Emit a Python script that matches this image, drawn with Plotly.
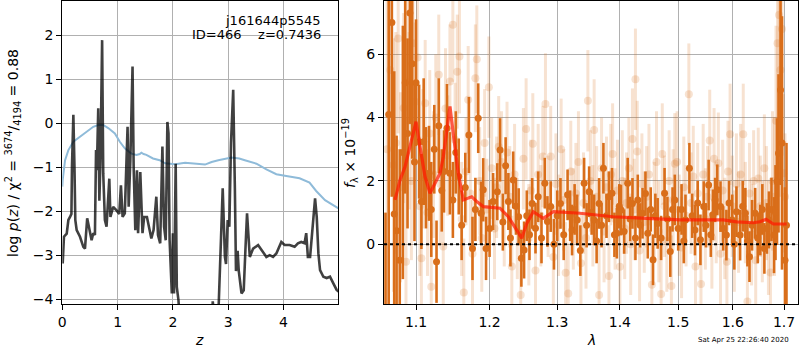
import numpy as np
import plotly.graph_objects as go

# ---------------- left panel: p(z) ----------------
z_pz = [0.007, 0.03, 0.08, 0.11, 0.14, 0.165, 0.175, 0.20, 0.22, 0.235, 0.26, 0.32, 0.38, 0.41, 0.45,
        0.50, 0.53, 0.56, 0.59, 0.61, 0.625, 0.65, 0.67, 0.69, 0.72, 0.74, 0.77, 0.80, 0.85, 0.87,
        0.92, 0.98, 1.03, 1.06, 1.09, 1.13, 1.18, 1.20, 1.23, 1.27, 1.29, 1.32, 1.35, 1.37, 1.41,
        1.45, 1.48, 1.53, 1.57, 1.61, 1.65, 1.70, 1.73, 1.77, 1.81, 1.84, 1.87, 1.90, 1.92, 1.94,
        1.98, 2.00, 2.02, 2.05, 2.07, 2.10, 2.13, 2.16, 2.68, 2.72, 2.75, 2.82, 2.87, 2.90, 2.94,
        2.96, 2.99, 3.02, 3.05, 3.09, 3.12, 3.14, 3.17, 3.19, 3.24, 3.28, 3.31, 3.34, 3.39, 3.45,
        3.54, 3.63, 3.69, 3.75, 3.81, 3.87, 3.96, 4.02, 4.11, 4.20, 4.26, 4.32, 4.38, 4.41, 4.44,
        4.48, 4.52, 4.57, 4.60, 4.63, 4.66, 4.72, 4.78, 4.84, 4.90, 4.96, 5.0]
log_pz = [-3.19, -2.58, -2.51, -2.2, -2.13, -2.06, -0.99, 0.19, -1.0, -2.2, -2.43, -2.58, -2.81, -2.85, -2.16,
          -2.43, -2.66, -2.5, -2.54, -0.61, -1.07, 0.34, -1.76, -0.85, 1.89, -1.14, -2.2, -2.35, -1.26, -2.13,
          -1.9, -1.98, -2.06, -1.41, -2.13, -2.05, -0.08, -1.9, -0.85, 1.29, -0.99, -2.43, -1.07, -2.5, -1.11,
          -2.5, -2.13, -2.13, -2.35, -2.62, -2.43, -1.67, -2.54, -2.73, -0.53, -2.35, -2.66, 0.03, -0.23, -2.65,
          -3.87, -2.5, -3.87, -0.92, -3.72, -4.02, -4.6, -5.5, -5.5, -4.05, -4.4, -4.4, -2.6, -1.48, -3.04,
          -3.2, -2.2, -2.35, -0.45, 0.76, -1.48, -3.36, -2.9, -3.35, -3.87, -3.8, -2.9, -2.05, -3.04, -2.85,
          -2.77, -2.93, -3.04, -3.0, -3.04, -2.96, -2.7, -2.77, -2.77, -2.81, -2.73, -2.7, -2.73, -2.5, -3.04,
          -3.04, -2.35, -1.71, -2.13, -2.96, -3.34, -3.49, -3.52, -3.49, -3.64, -3.79, -3.83]

z_chi = [0.0, 0.007, 0.05, 0.11, 0.20, 0.32, 0.44, 0.56, 0.65, 0.74, 0.83, 0.95, 1.04, 1.13, 1.25, 1.34,
         1.40, 1.43, 1.47, 1.52, 1.64, 1.76, 1.86, 2.04, 2.22, 2.40, 2.58, 2.70, 2.82, 3.06, 3.20, 3.30,
         3.51, 3.69, 3.87, 4.05, 4.29, 4.47, 4.59, 4.75, 4.90, 5.0]
chi_scaled = [-1.44, -1.29, -0.84, -0.61, -0.42, -0.31, -0.19, -0.08, -0.04, -0.04, -0.11, -0.23, -0.42, -0.57,
              -0.69, -0.72, -0.70, -0.67, -0.70, -0.72, -0.80, -0.84, -0.91, -0.93, -0.90, -0.92, -0.94, -0.88,
              -0.84, -0.78, -0.80, -0.84, -0.92, -1.05, -1.16, -1.20, -1.25, -1.35, -1.54, -1.75, -1.86, -1.94]

# ---------------- right panel: spectrum ----------------
g1 = [  # (lambda, flux, err) dark points
    (1.061, -2.2, 3.2), (1.065, 4.1, 6.0), (1.069, 7.0, 5.5), (1.072, 0.96, 4.5), (1.075, 0.43, 3.0),
    (1.079, -0.5, 3.5), (1.083, 2.9, 4.0), (1.086, 5.1, 3.5), (1.089, 3.5, 3.0), (1.092, 7.3, 3.5),
    (1.095, 5.7, 3.0), (1.098, 2.6, 2.5), (1.100, 5.1, 2.0), (1.104, 3.24, 1.8), (1.107, 1.35, 1.5),
    (1.110, 3.24, 2.0), (1.113, 2.1, 1.6), (1.117, 2.24, 1.5), (1.120, 1.1, 1.5), (1.124, 3.0, 1.4),
    (1.127, -0.55, 1.3), (1.130, 3.74, 1.5), (1.134, 1.7, 1.3), (1.137, 2.3, 1.3), (1.141, 3.66, 1.4),
    (1.145, 2.24, 1.3), (1.149, 1.4, 1.2), (1.153, 2.9, 1.3), (1.157, 2.14, 1.2), (1.161, 0.6, 1.1),
    (1.166, 1.79, 1.1), (1.171, 3.45, 1.2), (1.176, -0.13, 1.0), (1.180, 1.1, 1.0), (1.184, 3.98, 1.1),
    (1.188, 0.98, 1.0), (1.191, 1.72, 1.0), (1.195, -0.13, 1.0), (1.200, 0.5, 0.9), (1.205, 1.35, 0.9),
    (1.211, 1.66, 0.9), (1.215, 2.98, 1.0), (1.219, 0.7, 0.9), (1.223, 2.48, 0.9), (1.227, 1.35, 0.9),
    (1.230, 0.2, 0.9), (1.234, 2.03, 0.9), (1.238, 1.2, 0.9), (1.242, 0.87, 0.9), (1.246, -0.44, 0.9),
    (1.250, -0.18, 0.9), (1.254, 0.9, 0.8), (1.258, 0.3, 0.8), (1.262, 1.29, 0.8), (1.267, 0.51, 0.8),
    (1.271, 1.5, 0.8), (1.276, 0.2, 0.8), (1.281, 1.93, 0.8), (1.285, 0.72, 0.8), (1.290, 1.19, 0.8),
    (1.295, 0.0, 0.8), (1.300, 0.9, 0.8), (1.305, 1.29, 0.8), (1.310, 0.3, 0.8), (1.316, 1.56, 0.8),
    (1.320, 0.9, 0.8), (1.323, 0.45, 0.8), (1.327, 1.1, 0.8), (1.331, 0.77, 0.8), (1.336, -0.2, 0.8),
    (1.342, 1.93, 0.8), (1.346, 0.6, 0.7), (1.350, 1.66, 0.8), (1.354, 1.0, 0.7), (1.358, 0.77, 0.8),
    (1.362, 0.1, 0.7), (1.366, 1.29, 0.8), (1.370, 0.6, 0.7), (1.373, 2.4, 0.8), (1.378, 0.9, 0.7),
    (1.382, 1.5, 0.8), (1.387, 1.61, 0.8), (1.391, 0.3, 0.7), (1.395, 0.35, 0.8), (1.399, 1.2, 0.7),
    (1.402, 1.08, 0.8), (1.407, 0.4, 0.7), (1.413, 1.93, 0.8), (1.417, 0.8, 0.7), (1.421, 1.29, 0.8),
    (1.426, 0.2, 0.7), (1.430, 1.4, 0.8), (1.434, 0.6, 0.7), (1.438, 0.98, 0.8), (1.443, 1.6, 0.7),
    (1.447, 0.35, 0.8), (1.452, 1.1, 0.7), (1.456, -0.49, 0.8), (1.460, 0.9, 0.7), (1.464, 0.66, 0.8),
    (1.470, 0.2, 0.7), (1.476, 1.61, 0.8), (1.481, 0.8, 0.7), (1.486, -0.23, 0.8), (1.490, 1.1, 0.7),
    (1.494, 1.4, 0.8), (1.500, 0.5, 0.7), (1.506, 1.1, 0.8), (1.510, 0.1, 0.7), (1.513, 0.77, 0.8),
    (1.520, 2.4, 0.8), (1.525, 0.9, 0.7), (1.530, 0.45, 0.8), (1.535, 1.3, 0.7), (1.540, 0.14, 0.8),
    (1.546, 1.19, 0.8), (1.550, 0.6, 0.7), (1.555, 1.87, 0.8), (1.559, 0.3, 0.7), (1.563, 0.93, 0.8),
    (1.567, 1.4, 0.7), (1.571, 1.72, 0.8), (1.577, 1.19, 0.8), (1.582, 0.5, 0.7), (1.588, 0.29, 0.8),
    (1.593, 1.3, 0.7), (1.599, 0.77, 0.8), (1.603, 0.0, 0.8), (1.607, 1.03, 0.8), (1.614, 0.29, 0.8),
    (1.619, 1.2, 0.8), (1.624, 0.98, 0.8), (1.628, 0.1, 0.8), (1.632, -0.39, 0.8), (1.637, 0.6, 0.8),
    (1.643, 0.98, 0.8), (1.648, 0.2, 0.8), (1.653, 0.45, 0.8), (1.657, 1.1, 0.8), (1.661, -0.13, 0.8),
    (1.666, 0.5, 0.8), (1.670, 0.77, 0.9), (1.675, 1.1, 1.0), (1.680, 0.29, 1.2), (1.683, 1.0, 1.5),
    (1.686, 1.98, 2.0), (1.689, 2.87, 2.5), (1.693, 4.87, 3.0), (1.696, 3.2, 4.0), (1.702, -0.5, 2.3),
    (1.705, 0.6, 2.6),
]
lam_g1 = [r[0] for r in g1]
flux_g1 = [r[1] for r in g1]
err_g1 = [r[2] for r in g1]

g2 = [  # (lambda, flux, err) light points
    (1.063, 3.0, 5.0), (1.067, 5.5, 4.0), (1.071, 2.5, 4.0), (1.074, 3.2, 3.5), (1.077, 6.5, 3.0),
    (1.080, 1.8, 3.0), (1.084, 4.3, 3.0), (1.087, -0.55, 3.0), (1.088, 5.14, 3.0), (1.091, 3.9, 2.8),
    (1.094, 2.0, 2.5), (1.096, 6.35, 2.5), (1.099, 4.5, 2.5), (1.102, 5.9, 2.3), (1.105, 1.2, 2.2),
    (1.107, -0.44, 2.2), (1.109, 2.7, 2.2), (1.112, 4.45, 2.0), (1.115, 1.0, 2.0), (1.118, 3.5, 2.0),
    (1.120, -1.34, 2.0), (1.123, 2.2, 2.0), (1.126, 4.0, 2.0), (1.130, 5.35, 1.9), (1.132, 1.9, 1.9),
    (1.136, -0.07, 1.9), (1.139, 4.29, 1.9), (1.142, 2.8, 1.9), (1.145, 5.14, 1.8), (1.149, 6.93, 1.8),
    (1.152, 3.3, 1.8), (1.155, 5.45, 1.8), (1.158, 5.93, 1.8), (1.161, 0.8, 1.8), (1.164, -1.52, 1.7),
    (1.167, 2.3, 1.7), (1.170, 4.56, 1.7), (1.173, 1.6, 1.7), (1.176, -0.3, 1.7), (1.180, 5.24, 1.7),
    (1.182, 5.84, 1.7), (1.186, 2.0, 1.7), (1.189, 0.2, 1.7), (1.193, 3.2, 1.7), (1.196, 1.1, 1.6),
    (1.199, 4.96, 1.6), (1.203, 2.4, 1.6), (1.207, 0.5, 1.6), (1.210, 1.8, 1.6), (1.213, 3.08, 1.6),
    (1.217, 2.6, 1.6), (1.221, 0.9, 1.6), (1.225, 2.9, 1.6), (1.229, 1.5, 1.6), (1.232, -0.7, 1.6),
    (1.236, 2.2, 1.6), (1.240, 0.5, 1.6), (1.245, -1.6, 1.6), (1.249, 2.7, 1.6), (1.253, 3.64, 1.6),
    (1.257, 0.3, 1.6), (1.260, 1.7, 1.6), (1.263, 3.17, 1.6), (1.267, -0.83, 1.6), (1.271, 2.2, 1.6),
    (1.275, 0.9, 1.6), (1.278, 2.77, 1.6), (1.282, 4.43, 1.6), (1.286, 1.2, 1.6), (1.290, 2.77, 1.6),
    (1.294, -0.4, 1.6), (1.298, 1.9, 1.6), (1.302, 0.6, 1.6), (1.306, 3.0, 1.6), (1.310, 1.4, 1.6),
    (1.313, -0.9, 1.6), (1.317, -1.55, 1.6), (1.321, 2.3, 1.6), (1.325, 0.8, 1.6), (1.329, 1.6, 1.6),
    (1.333, 2.6, 1.6), (1.337, -0.6, 1.6), (1.341, 1.3, 1.6), (1.345, 0.2, 1.6), (1.348, 4.53, 1.6),
    (1.352, 2.0, 1.6), (1.356, 0.9, 1.6), (1.358, 3.61, 1.6), (1.362, 1.5, 1.6), (1.366, -1.6, 1.6),
    (1.370, 2.4, 1.6), (1.374, 0.4, 1.6), (1.378, 1.8, 1.6), (1.382, -1.0, 1.6), (1.385, 2.2, 1.6),
    (1.388, 2.85, 1.6), (1.392, 0.8, 1.6), (1.396, 1.7, 1.6), (1.400, -0.71, 1.6), (1.404, 2.0, 1.6),
    (1.408, 0.5, 1.6), (1.411, 1.3, 1.6), (1.415, 2.4, 1.6), (1.418, 0.0, 1.6), (1.421, 3.32, 1.6),
    (1.424, 1.1, 1.6), (1.426, 5.21, 1.6), (1.429, 2.93, 1.6), (1.433, -0.2, 1.6), (1.437, 1.9, 1.6),
    (1.441, 0.7, 1.6), (1.445, 1.5, 1.6), (1.449, 2.2, 1.6), (1.454, -1.28, 1.6), (1.458, 1.0, 1.6),
    (1.462, 2.6, 1.6), (1.466, 0.4, 1.6), (1.470, -1.57, 1.6), (1.472, 2.85, 1.6), (1.476, 1.2, 1.6),
    (1.480, 0.1, 1.6), (1.484, 2.0, 1.6), (1.488, -1.32, 1.6), (1.491, 1.4, 1.6), (1.494, 2.54, 1.6),
    (1.498, 2.6, 1.6), (1.502, 0.6, 1.6), (1.506, -0.1, 1.6), (1.510, 1.8, 1.6), (1.514, 0.9, 1.6),
    (1.519, 4.74, 1.6), (1.523, 1.3, 1.6), (1.527, 2.14, 1.6), (1.531, -0.7, 1.6), (1.535, 1.6, 1.6),
    (1.541, -1.25, 1.6), (1.545, 2.2, 1.6), (1.549, 0.8, 1.6), (1.553, 1.5, 1.6), (1.557, 3.28, 1.6),
    (1.561, 0.2, 1.6), (1.565, 2.7, 1.6), (1.569, 1.0, 1.6), (1.573, 2.56, 1.6), (1.577, -0.3, 1.6),
    (1.581, 1.7, 1.6), (1.585, 0.5, 1.6), (1.589, -0.55, 1.6), (1.591, 2.3, 1.6), (1.595, 3.47, 1.6),
    (1.599, 1.2, 1.6), (1.603, 0.1, 1.6), (1.607, 1.9, 1.6), (1.611, 0.7, 1.6), (1.615, 2.2, 1.6),
    (1.620, 3.47, 1.6), (1.624, 1.0, 1.6), (1.628, -1.81, 1.6), (1.632, 1.6, 1.6), (1.636, 0.3, 1.6),
    (1.640, 2.0, 1.6), (1.644, -0.5, 1.6), (1.649, 2.08, 1.6), (1.653, 1.2, 1.6), (1.657, 0.4, 1.6),
    (1.661, 2.4, 1.7), (1.665, 1.3, 1.8), (1.669, 0.2, 1.8), (1.673, -0.89, 2.0), (1.677, 2.0, 2.2),
    (1.681, 1.5, 2.5), (1.684, 3.9, 3.0), (1.687, 6.35, 3.5), (1.690, 7.24, 4.0), (1.693, 5.5, 4.0),
    (1.696, 6.8, 4.0), (1.699, 2.24, 2.5), (1.702, 1.5, 2.0),
]
lam_g2 = [r[0] for r in g2]
flux_g2 = [r[1] for r in g2]
err_g2 = [r[2] for r in g2]

lam_model = [1.0730, 1.0794, 1.0858, 1.0922, 1.1000, 1.1052, 1.1118, 1.1184, 1.1250, 1.1317, 1.1361,
             1.1407, 1.1451, 1.1506, 1.1564, 1.1633, 1.1702, 1.1749, 1.1819, 1.1912, 1.2149, 1.2269,
             1.2392, 1.2465, 1.2539, 1.2637, 1.2788, 1.2940, 1.3355, 1.3892, 1.4452, 1.5033, 1.5822,
             1.6075, 1.6394, 1.6525, 1.6642, 1.6787, 1.7055]
flux_model = [1.40, 2.03, 2.45, 3.08, 3.87, 3.08, 2.13, 1.61, 1.93, 2.24, 2.77, 3.50, 4.35, 3.29, 2.24,
              1.40, 1.45, 1.50, 1.35, 1.19, 1.14, 0.87, 0.45, 0.19, 0.66, 1.03, 0.82, 1.03, 0.98, 0.87,
              0.82, 0.77, 0.77, 0.71, 0.68, 0.71, 0.79, 0.64, 0.64]

title_lines = ["j161644p5545", "ID=466&nbsp;&nbsp;&nbsp;&nbsp;z=0.7436"]
timestamp = "Sat Apr 25 22:26:40 2020"

FONT = "DejaVu Sans"
ORANGE = "rgb(217,110,26)"
ORANGE_L = "rgba(217,110,26,0.2)"

fig = go.Figure()
fig.add_trace(go.Scatter(x=z_chi, y=chi_scaled, mode="lines", xaxis="x", yaxis="y",
                         line=dict(color="#8fbbd9", width=2), showlegend=False))
fig.add_trace(go.Scatter(x=z_pz, y=log_pz, mode="lines", xaxis="x", yaxis="y",
                         line=dict(color="rgba(0,0,0,0.75)", width=2.6), showlegend=False))

fig.add_trace(go.Scatter(x=lam_g2, y=flux_g2, mode="markers", xaxis="x2", yaxis="y2",
                         marker=dict(color=ORANGE_L, size=8, line=dict(width=0)),
                         error_y=dict(type="data", array=err_g2, color=ORANGE_L, thickness=3, width=0),
                         showlegend=False))
fig.add_trace(go.Scatter(x=lam_g1, y=flux_g1, mode="markers", xaxis="x2", yaxis="y2",
                         marker=dict(color=ORANGE, size=7, line=dict(width=0)),
                         error_y=dict(type="data", array=err_g1, color=ORANGE, thickness=2.6, width=0),
                         showlegend=False))
fig.add_trace(go.Scatter(x=lam_model, y=flux_model, mode="lines", xaxis="x2", yaxis="y2",
                         line=dict(color="rgba(255,25,0,0.72)", width=3.2), showlegend=False))

axis_common = dict(showgrid=True, gridcolor="#b0b0b0", gridwidth=1, showline=True, mirror=True,
                   linecolor="black", linewidth=1.2, ticks="outside", ticklen=5, tickwidth=1,
                   tickcolor="black", zeroline=False, automargin=False,
                   tickfont=dict(family=FONT, size=14, color="black"))

ydom = [1 - 304 / 350, 1 - 1 / 350]
fig.update_layout(
    width=800, height=350, margin=dict(l=0, r=0, t=0, b=0),
    paper_bgcolor="white", plot_bgcolor="white",
    xaxis=dict(domain=[62.3 / 800, 338.3 / 800], range=[0, 4.99],
               tickvals=[0, 1, 2, 3, 4], ticktext=["0", "1", "2", "3", "4"], anchor="y", **axis_common),
    yaxis=dict(domain=ydom, range=[-4.11, 2.78], tickvals=[-4, -3, -2, -1, 0, 1, 2],
               ticktext=["\u22124", "\u22123", "\u22122", "\u22121", "0", "1", "2"], anchor="x", **axis_common),
    xaxis2=dict(domain=[384 / 800, 798 / 800], type="log",
                range=[np.log10(1.0591), np.log10(1.7284)],
                tickvals=[1.1, 1.2, 1.3, 1.4, 1.5, 1.6, 1.7],
                ticktext=["1.1", "1.2", "1.3", "1.4", "1.5", "1.6", "1.7"], anchor="y2", **axis_common),
    yaxis2=dict(domain=ydom, range=[-1.885, 7.68], tickvals=[0, 2, 4, 6],
                ticktext=["0", "2", "4", "6"], anchor="x2", **axis_common),
)

# zero reference line on spectrum panel
fig.add_shape(type="line", xref="x2 domain", yref="y2", x0=0, x1=1, y0=0, y1=0,
              line=dict(color="black", width=2, dash="dot"), layer="above")

ann = []
ann.append(dict(text=title_lines[0], x=323 / 800, y=1 - 20 / 350, xref="paper", yref="paper",
                xanchor="right", yanchor="middle", showarrow=False,
                font=dict(family=FONT, size=13, color="black")))
ann.append(dict(text=title_lines[1], x=323 / 800, y=1 - 35 / 350, xref="paper", yref="paper",
                xanchor="right", yanchor="middle", showarrow=False,
                font=dict(family=FONT, size=13, color="black")))
ann.append(dict(text="<i>z</i>", x=199 / 800, y=1 - 340 / 350, xref="paper", yref="paper",
                xanchor="center", yanchor="middle", showarrow=False,
                font=dict(family=FONT, size=14, color="black")))
ann.append(dict(text="<i>λ</i>", x=591 / 800, y=1 - 340 / 350, xref="paper", yref="paper",
                xanchor="center", yanchor="middle", showarrow=False,
                font=dict(family=FONT, size=14, color="black")))
ann.append(dict(text="log <i>p</i>(<i>z</i>) / χ<sup>2</sup> = <sup>3674</sup>/<sub>4194</sub> = 0.88",
                x=13 / 800, y=1 - 153 / 350, xref="paper", yref="paper", textangle=-90,
                xanchor="center", yanchor="middle", showarrow=False,
                font=dict(family=FONT, size=14, color="black")))
ann.append(dict(text="<i>f</i><sub>λ</sub> × 10<sup>−19</sup>",
                x=350 / 800, y=1 - 153 / 350, xref="paper", yref="paper", textangle=-90,
                xanchor="center", yanchor="middle", showarrow=False,
                font=dict(family=FONT, size=14, color="black")))
ann.append(dict(text=timestamp, x=743 / 800, y=1 - 340 / 350, xref="paper", yref="paper",
                xanchor="center", yanchor="middle", showarrow=False,
                font=dict(family=FONT, size=7, color="black")))
fig.update_layout(annotations=ann)

fig.write_html("out.html")
